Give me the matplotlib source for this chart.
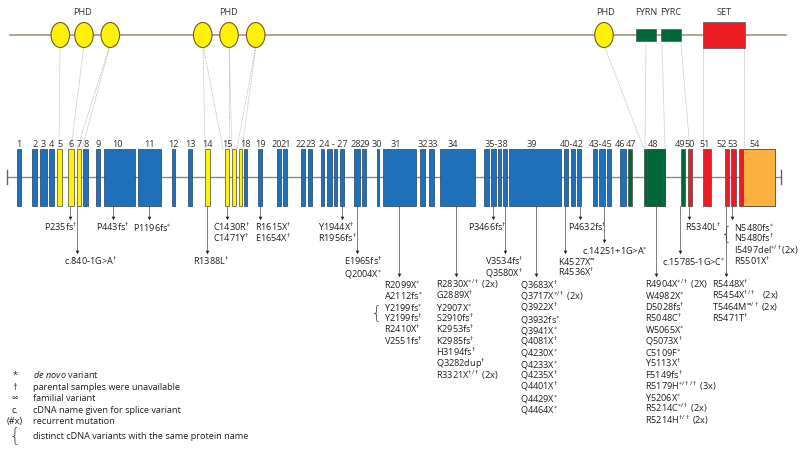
import matplotlib
matplotlib.use("Agg")
import matplotlib.pyplot as plt
from matplotlib.patches import Rectangle, Ellipse

FONT = "Open Sans"
plt.rcParams["font.family"] = [FONT, "DejaVu Sans"]
plt.rcParams["mathtext.fontset"] = "custom"
plt.rcParams["mathtext.rm"] = FONT
plt.rcParams["mathtext.it"] = FONT + ":italic"
plt.rcParams["mathtext.bf"] = FONT + ":bold"

# ------------------------------------------------------------
# gene model (positions along the drawing axis)
# ------------------------------------------------------------
EXON_LEFT = [16.7, 32, 40, 49, 56.7, 68.3, 77.3, 83.3, 95.7, 104.3,
             137.7, 171.7, 187.7, 205.3, 224.7, 232.3, 238.7, 244, 257.7, 276.7,
             283.3, 301, 308.3, 320.7, 326.7, 333.7, 340, 353.7, 361.7, 376.7,
             382.7, 420.3, 429, 439.7, 484.3, 490.7, 497.7, 503, 509.3, 564.3,
             570.7, 577.3, 593.3, 599.3, 607.3, 620, 628.3, 644, 680.7, 688,
             703.3, 724.7, 731, 739]
EXON_RIGHT = [20.7, 36.7, 46.7, 53.7, 62.3, 74, 80.7, 87.7, 100.3, 134.7,
              160.7, 175.3, 191.7, 210, 229.3, 236, 242.3, 247.3, 262, 280.7,
              286.7, 305, 312.3, 324.3, 331.7, 337.3, 343.7, 359.7, 366, 378.7,
              416, 424.7, 433.7, 475.3, 488.7, 496, 501, 507, 560.7, 568.3,
              575, 581, 597.3, 605, 611, 626, 632, 664.7, 684.7, 692,
              710.7, 728.7, 735.7, 775]
# domain colour class per exon: b=blue, y=PHD, g=FYR, r=SET, o=post-SET
EXON_KIND = list("bbbbyyybbbbbbyyyybbbbbbbbbbbbbbbbbbbbbbbbbbbbbgggrrrr")
EXON_KIND.append("r")
# split exons: (exon index, split position, colour of right part)
EXON_SPLIT = [(47, 647.3, "g"), (53, 742.7, "o")]

EXON_TAGS = ["1", "2", "3", "4", "5", "6", "7", "8", "9", "10", "11", "12", "13",
             "14", "15", "18", "19", "20", "21", "22", "23", "24 - 27", "28", "29",
             "30", "31", "32", "33", "34", "35-38", "39", "40-42", "43-45", "46",
             "47", "48", "49", "50", "51", "52", "53", "54"]
EXON_TAG_X = [19, 35, 43, 51, 60, 71, 79, 86, 98, 117, 149, 173, 190,
              207, 227, 245, 260, 277, 286, 301, 311, 333, 356, 365,
              377, 396, 423, 433, 453, 496, 532, 572, 601, 620,
              631, 653, 680, 690, 705, 722, 733, 755]

# protein domains
PHD_X = [60.3, 84, 110.3, 202.7, 229, 255.7, 604]
PHD_TAG_X = [83, 229, 605.5]
BOX_NAME = ["FYRN", "FYRC", "SET"]
BOX_LEFT = [636.3, 661, 702.7]
BOX_RIGHT = [656, 681, 745]
BOX_HALF = [5.7, 5.7, 13.3]
BOX_COLOR = ["#006838", "#006838", "#ed1c24"]
LINK_TOP = [60, 84, 110, 110, 203, 203, 229, 229, 256, 256, 604, 646, 662, 681, 703, 744]
LINK_BOT = [59, 71, 77, 82, 205, 223, 229, 232, 237, 242, 644, 645, 665, 690, 703, 744]

# mutations: arrow position, arrow length level, label left edge, labels
MUT_X = [70, 77, 113, 149, 207, 227, 260, 342, 357, 399, 456, 493, 505, 536,
         565, 580, 604, 656, 680, 689, 726, 732]
MUT_TIP = [219, 253, 219, 219, 253, 219, 219, 219, 253, 276, 276, 219, 253, 276,
           253, 219, 242, 276, 253, 219, 276, 219]
MUT_LEFT = [44, 64, 96, 133, 193, 213, 255, 318, 344, 384, 436, 468, 485, 520,
            558, 568, 582, 645, 662, 685, 712, 734]
MUT_LABELS = [
    ["P235fs^†"],
    ["c.840-1G>A^†"],
    ["P443fs^†"],
    ["P1196fs^*"],
    ["R1388L^†"],
    ["C1430R^†", "C1471Y^†"],
    ["R1615X^†", "E1654X^†"],
    ["Y1944X^†", "R1956fs^†"],
    ["E1965fs^†", "Q2004X^*"],
    ["R2099X^*", "A2112fs^*", "Y2199fs^*", "Y2199fs^†", "R2410X^†", "V2551fs^†"],
    ["R2830X^*/† (2x)", "G2889X^†", "Y2907X^*", "S2910fs^†", "K2953fs^†",
     "K2985fs^†", "H3194fs^†", "Q3282dup^†", "R3321X^†/† (2x)"],
    ["P3466fs^†"],
    ["V3534fs^†", "Q3580X^†"],
    ["Q3683X^†", "Q3717X^*/† (2x)", "Q3922X^†", "Q3932fs^*", "Q3941X^*",
     "Q4081X^†", "Q4230X^*", "Q4233X^*", "Q4235X^†", "Q4401X^†", "Q4429X^*",
     "Q4464X^*"],
    ["K4527X^∞", "R4536X^†"],
    ["P4632fs^†"],
    ["c.14251+1G>A^*"],
    ["R4904X^*/† (2X)", "W4982X^*", "D5028fs^†", "R5048C^†", "W5065X^*",
     "Q5073X^†", "C5109F^*", "Y5113X^†", "F5149fs^†", "R5179H^*/†/† (3x)",
     "Y5206X^*", "R5214C^*/† (2x)", "R5214H^†/† (2x)"],
    ["c.15785-1G>C^*"],
    ["R5340L^†"],
    ["R5448X^†", "R5454X^†/†   (2x)", "T5464M^∞/† (2x)", "R5471T^†"],
    ["N5480fs^*", "N5480fs^†", "I5497del^*/†(2x)", "R5501X^†"],
]
# same protein name, distinct cDNA: (group, first line)
BRACES = [(9, 2), (21, 0)]

LEGEND_SYM = ["*", "†", "∞", "c.", "(#x)", "{"]
LEGEND_TXT = [r"$\mathit{de\ novo}$ variant", "parental samples were unavailable",
              "familial variant", "cDNA name given for splice variant",
              "recurrent mutation", "distinct cDNA variants with the same protein name"]

COLORS = {"b": "#1f70bb", "y": "#fff200", "g": "#006838", "r": "#ed1c24", "o": "#fbb040"}
TXT = "#231f20"
FS = 6.6
LINE_H = 11.3
BASE = 3.2   # baseline offset below line centre


def fmt(s):
    # "R2830X^*/† (2x)" -> base text with superscripted marks
    if "^" not in s:
        return s
    base, rest = s.split("^", 1)
    i = 0
    while i < len(rest) and rest[i] not in " (":
        i += 1
    marks = rest[:i].replace("*", r"\ast").replace("∞", r"\infty").replace("†", r"\dagger")
    return base + r"$^{" + marks + r"}$" + rest[i:]


fig = plt.figure(figsize=(8, 4.6), dpi=100)
ax = fig.add_axes([0, 0, 1, 1])
ax.set_xlim(0, 800)
ax.set_ylim(460, 0)
ax.axis("off")

# ---- protein ----
PROT_Y = 36
ax.plot([10, 786], [PROT_Y, PROT_Y], color="#a39584", lw=1.2, zorder=1)
for xt, xb in zip(LINK_TOP, LINK_BOT):
    ax.plot([xt, xb], [PROT_Y + 10, 150], color="#b0b0b0", lw=0.6, ls=(0, (1, 1)), zorder=0)
for x in PHD_X:
    ax.add_patch(Ellipse((x, PROT_Y), 18.5, 25, facecolor="#fff200",
                         edgecolor="#6d5c2a", lw=0.8, zorder=3))
for x in PHD_TAG_X:
    ax.text(x, 11.5 + BASE, "PHD", ha="center", va="baseline", fontsize=FS, color="#333")
for name, l, r, h, c in zip(BOX_NAME, BOX_LEFT, BOX_RIGHT, BOX_HALF, BOX_COLOR):
    ax.add_patch(Rectangle((l, PROT_Y - h), r - l, 2 * h, facecolor=c,
                           edgecolor="#555", lw=0.5, zorder=3))
    ax.text((l + r) / 2, 11.5 + BASE, name, ha="center", va="baseline",
            fontsize=FS, color="#333")

# ---- gene ----
EX_TOP, EX_BOT, INTRON_Y = 150, 207, 178
ax.plot([7, 781], [INTRON_Y, INTRON_Y], color="#8a8a8a", lw=1.0, zorder=1)
for x in (7, 781):
    ax.plot([x, x], [INTRON_Y - 7, INTRON_Y + 7], color="#666", lw=1.0, zorder=1)
for l, r, k in zip(EXON_LEFT, EXON_RIGHT, EXON_KIND):
    edge = "#23405f" if k == "b" else "#4a4a4a"
    ax.add_patch(Rectangle((l, EX_TOP), r - l, EX_BOT - EX_TOP, facecolor=COLORS[k],
                           edgecolor=edge, lw=0.5, zorder=2))
for i, sx, k in EXON_SPLIT:
    r = EXON_RIGHT[i]
    ax.add_patch(Rectangle((sx, EX_TOP), r - sx, EX_BOT - EX_TOP, facecolor=COLORS[k],
                           edgecolor="#4a4a4a", lw=0.5, zorder=2))
for t, x in zip(EXON_TAGS, EXON_TAG_X):
    ax.text(x, 144 + BASE, t, ha="center", va="baseline", fontsize=FS, color="#333")

# ---- mutations ----
for gi, (x, tip, left, labs) in enumerate(zip(MUT_X, MUT_TIP, MUT_LEFT, MUT_LABELS)):
    ax.plot([x, x], [EX_BOT, tip], color="#6b6b6b", lw=0.6, zorder=1)
    ax.plot(x, tip, marker="v", ms=2.6, color="#222", mec="none", zorder=2)
    y0 = tip + 9
    for j, s in enumerate(labs):
        ax.text(left, y0 + j * LINE_H + BASE, fmt(s), ha="left", va="baseline",
                fontsize=FS, color=TXT)
    for g, j in BRACES:
        if g == gi:
            ax.text(left - 2, y0 + (j + 0.5) * LINE_H, "{", ha="right", va="center",
                    fontsize=13, color="#444", family="DejaVu Sans", fontweight="light")

# ---- legend ----
LEG_Y = [375, 386.5, 398, 409.5, 421, 436]
for sym, txt, y in zip(LEGEND_SYM, LEGEND_TXT, LEG_Y):
    if sym == "{":
        ax.text(15, y, sym, ha="center", va="center", fontsize=14, color="#444",
                family="DejaVu Sans", fontweight="light")
    else:
        ax.text(15, y + BASE, sym, ha="center", va="baseline", fontsize=FS, color=TXT)
    ax.text(33, y + BASE, txt, ha="left", va="baseline", fontsize=FS, color=TXT)

fig.savefig("out.png", dpi=100, facecolor="white")
